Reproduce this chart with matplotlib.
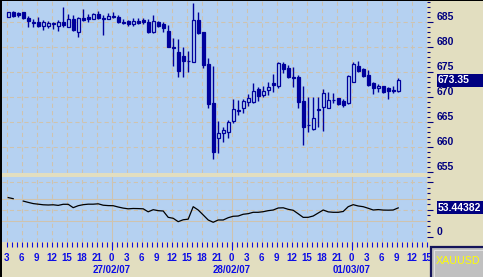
import numpy as np
import pandas as pd
import matplotlib
matplotlib.use("Agg")
import matplotlib.pyplot as plt
from matplotlib.patches import Rectangle
import matplotlib.transforms as mtransforms

plt.rcParams['font.family'] = ['Liberation Sans', 'DejaVu Sans']

# ---------------- data ----------------
start_time = "2007-02-26 03:00"
n_axis_hours = 85           # axis runs to 01/03/07 15:00
opens = [686.07, 687.07, 686.87, 686.93, 685.73, 685.0, 685.07, 684.2, 684.27, 684.73,
         684.2, 685.0, 684.07, 685.6, 683.07, 685.73, 686.07, 685.6, 686.53, 685.73,
         685.67, 686.2, 685.93, 684.93, 685.27, 684.6, 685.2, 685.4, 684.93, 682.93,
         684.93, 684.53, 683.2, 680.0, 679.07, 678.2, 677.27, 677.07, 685.4, 682.93,
         676.6, 668.73, 661.8, 662.8, 663.0, 665.27, 667.4, 667.87, 669.07, 668.93,
         671.53, 670.4, 671.4, 672.73, 672.27, 676.53, 675.73, 674.0, 673.93, 669.2,
         664.47, 663.53, 667.6, 667.93, 667.73, 669.47, 669.73, 669.2, 668.87, 672.93,
         676.27, 675.6, 674.4, 672.73, 671.73, 672.2, 671.73, 671.33, 671.27]
highs = [687.07, 687.2, 687.07, 686.93, 686.2, 685.53, 685.93, 685.4, 685.2, 684.93,
         685.4, 687.93, 686.53, 686.4, 686.07, 687.53, 686.53, 686.87, 687.2, 686.4,
         686.73, 686.93, 686.4, 685.53, 685.4, 685.87, 685.73, 685.73, 685.6, 686.4,
         685.27, 684.93, 684.4, 681.73, 681.53, 680.07, 679.27, 688.73, 686.93, 683.07,
         677.73, 676.2, 665.27, 664.07, 665.4, 669.6, 669.4, 669.6, 670.6, 672.73,
         671.93, 672.2, 673.07, 674.6, 677.07, 677.07, 676.4, 675.93, 674.4, 672.2,
         670.07, 670.07, 670.07, 671.53, 671.07, 670.73, 669.87, 669.53, 674.4, 677.07,
         677.2, 675.73, 675.4, 673.07, 672.53, 672.27, 672.07, 672.2, 673.73]
lows = [685.93, 686.07, 686.07, 685.53, 684.07, 683.93, 683.93, 683.4, 683.73, 683.53,
        683.27, 684.07, 684.07, 683.27, 681.93, 685.27, 684.93, 685.53, 685.53, 682.4,
        685.53, 685.87, 684.73, 684.6, 684.2, 684.27, 684.6, 684.6, 682.87, 682.73,
        683.93, 682.93, 679.93, 676.27, 673.93, 673.93, 674.93, 676.93, 682.6, 675.87,
        667.73, 657.53, 658.73, 661.07, 661.87, 664.73, 666.4, 666.73, 668.2, 668.87,
        669.2, 670.07, 670.4, 671.07, 671.73, 674.73, 673.73, 671.93, 667.73, 660.4,
        663.07, 663.4, 664.07, 663.27, 667.73, 668.73, 668.4, 668.07, 668.6, 672.93,
        674.93, 674.07, 672.27, 670.6, 670.93, 670.87, 669.53, 670.87, 671.07]
closes = [686.93, 686.27, 686.4, 685.73, 685.27, 684.87, 684.27, 684.93, 684.87, 684.53,
          685.0, 684.4, 685.6, 683.4, 685.87, 685.4, 685.53, 686.6, 685.73, 685.53,
          686.2, 685.93, 685.07, 684.8, 684.53, 685.13, 684.87, 685.0, 683.07, 685.2,
          684.27, 683.87, 680.07, 679.87, 675.27, 677.27, 677.13, 685.4, 682.87, 676.4,
          668.53, 659.07, 662.8, 663.4, 665.0, 667.6, 667.27, 669.2, 669.87, 671.27,
          670.27, 671.2, 671.93, 672.4, 676.87, 675.6, 673.93, 673.87, 669.07, 664.07,
          664.33, 665.73, 667.47, 670.73, 669.4, 669.33, 668.53, 668.4, 674.2, 676.53,
          675.2, 674.27, 672.4, 671.87, 672.27, 671.07, 671.27, 671.2, 673.35]
rsi = [72.3, 70.3, np.nan, 65.9, 63.5, 61.3, 60.2, 59.1, 58.7, 59.1,
       58.0, 60.0, 60.0, 53.8, 57.4, 59.3, 60.2, 60.2, 60.9, 58.3,
       57.6, 57.4, 55.0, 53.0, 51.7, 52.3, 52.1, 51.7, 46.2, 50.1,
       48.3, 47.7, 36.1, 34.3, 28.1, 31.6, 32.7, 55.6, 49.5, 40.4,
       31.2, 27.0, 31.2, 31.2, 35.4, 38.0, 38.5, 41.7, 42.8, 45.3,
       45.3, 46.4, 48.3, 49.5, 53.2, 53.6, 50.8, 49.0, 42.6, 36.0,
       36.1, 38.5, 44.0, 49.5, 46.1, 45.3, 45.3, 46.8, 55.6, 59.3,
       56.9, 55.6, 52.7, 49.5, 50.3, 49.4, 49.2, 49.5, 53.44]
rsi_levels = [30, 70]
price_ticks = [655, 660, 665, 670, 675, 680, 685]
rsi_ticks = [0, 50, 100]
price_label = "673.35"
rsi_label = "53.44382"
symbol = "XAUUSD"

# ---------------- style ----------------
W, H = 483, 277
BG = '#B5D1F1'
BEIGE = '#E2DEC0'
NAVY = '#00009C'
AXNAVY = '#000080'
BLUE = '#0C0CE6'
GRID = '#CFC3AE'

fig = plt.figure(figsize=(W / 100, H / 100), dpi=100, facecolor=BEIGE)


def px_axes(x0, y0, x1, y1):
    return [x0 / W, 1 - y1 / H, (x1 - x0) / W, (y1 - y0) / H]


ax = fig.add_axes(px_axes(2, 0, 427, 173))
ax2 = fig.add_axes(px_axes(2, 176.5, 427, 242), sharex=ax)

times = pd.date_range(start_time, periods=n_axis_hours, freq='h')
hpos = np.arange(n_axis_hours)
n = len(closes)
xc = np.arange(n) + 0.3

for a in (ax, ax2):
    a.set_facecolor(BG)
    for s in a.spines.values():
        s.set_visible(False)

ax.set_xlim(-0.94, 84.06)
ax.set_ylim(654.8, 689.4)
ax2.set_ylim(-9.2, 111.0)

# vertical grid every 3 hours
major_pos = hpos[times.hour % 3 == 0]
major_lab = [str(h) for h in times.hour[times.hour % 3 == 0]]
mid_pos = hpos[times.hour == 0]
mid_lab = [t.strftime('%d/%m/%y') for t in times[times.hour == 0]]

dash = (0, (4, 3))
for p in major_pos:
    ax.axvline(p, color=GRID, lw=0.75, ls=dash, zorder=0)
    if p in mid_pos:
        ax2.axvline(p, color=GRID, lw=0.75, ls='-', zorder=0)
    else:
        ax2.axvline(p, color=GRID, lw=0.75, ls=dash, zorder=0)
for v in price_ticks[1:]:
    ax.axhline(v, color=GRID, lw=0.75, ls=dash, zorder=0)
for v in [100, 50]:
    ax2.axhline(v, color=GRID, lw=0.75, ls=dash, zorder=0)
for v in rsi_levels:
    ax2.axhline(v, color=GRID, lw=0.75, ls='-', zorder=0)

# candles
o = np.array(opens); c = np.array(closes); hi = np.array(highs); lo = np.array(lows)
ax.vlines(xc, lo, hi, color=NAVY, lw=1.0, zorder=2)
up = c >= o
bottoms = np.minimum(o, c)
heights = np.abs(c - o)
ax.bar(xc[up], heights[up], bottom=bottoms[up], width=0.6, facecolor=BG,
       edgecolor=NAVY, linewidth=0.9, zorder=3)
ax.bar(xc[~up], heights[~up], bottom=bottoms[~up], width=0.6, facecolor=NAVY,
       edgecolor=NAVY, linewidth=0.9, zorder=3)

# indicator
ax2.plot(xc, rsi, color='black', lw=0.9, zorder=3)

# right axis (price)
ax.yaxis.tick_right()
ax.set_yticks(price_ticks, [str(v) for v in price_ticks])
ax.set_yticks(np.arange(655, 690, 1), minor=True)
ax.tick_params(axis='y', which='major', length=4.3, width=0.8, color=AXNAVY,
               labelcolor=AXNAVY, labelsize=7.5, pad=2.5)
ax.tick_params(axis='y', which='minor', length=2, width=0.8, color=AXNAVY)
for lbl in ax.get_yticklabels():
    lbl.set_fontweight('bold')
    lbl.set_verticalalignment('bottom')
ax.tick_params(axis='x', which='both', length=0, labelbottom=False)

ax2.yaxis.tick_right()
ax2.set_yticks(rsi_ticks, ['0', '', ''])
ax2.set_yticks(np.arange(0, 111, 10), minor=True)
ax2.tick_params(axis='y', which='major', length=4.3, width=0.8, color=AXNAVY,
                labelcolor=AXNAVY, labelsize=7.5, pad=2.5)
ax2.tick_params(axis='y', which='minor', length=2, width=0.8, color=AXNAVY)
for lbl in ax2.get_yticklabels():
    lbl.set_fontweight('bold')
    lbl.set_verticalalignment('bottom')

# bottom time axis
ax2.set_xticks(major_pos, major_lab)
ax2.set_xticks(hpos, minor=True)
ax2.tick_params(axis='x', which='both', length=3.6, width=0.8, color=BLUE,
                labelcolor=BLUE, labelsize=7, pad=4.0)
for lbl in ax2.get_xticklabels():
    lbl.set_fontweight('bold')
sec = ax2.secondary_xaxis('bottom')
sec.set_xticks(mid_pos, mid_lab)
sec.tick_params(axis='x', length=5.8, width=0.8, color=BLUE, labelcolor=BLUE,
                labelsize=7, pad=11.0)
for lbl in sec.get_xticklabels():
    lbl.set_fontweight('bold')
for s in sec.spines.values():
    s.set_visible(False)

# current value boxes
tr1 = mtransforms.blended_transform_factory(fig.transFigure, ax.transData)
box_h1 = 13 / 5.0
ax.add_patch(Rectangle((437 / W, closes[-1] - box_h1 / 2), 50 / W, box_h1,
                       transform=tr1, clip_on=False, facecolor=AXNAVY,
                       edgecolor='none', zorder=5))
ax.text(437.5 / W, closes[-1], price_label, transform=tr1, color='white',
        fontsize=7.5, fontweight='bold', va='center', ha='left', zorder=6)

tr2 = mtransforms.blended_transform_factory(fig.transFigure, ax2.transData)
box_h2 = 13 / 0.545
ax2.add_patch(Rectangle((437 / W, rsi[-1] - box_h2 / 2), 50 / W, box_h2,
                        transform=tr2, clip_on=False, facecolor=AXNAVY,
                        edgecolor='none', zorder=5))
ax2.text(437.5 / W, rsi[-1], rsi_label, transform=tr2, color='white',
         fontsize=7.5, fontweight='bold', va='center', ha='left', zorder=6)

# symbol box
fig.add_artist(Rectangle((431 / W, -0.01), 60 / W, 33 / H, transform=fig.transFigure,
                         facecolor='#C0C0C0', edgecolor='#14145A', linewidth=1.6))
fig.add_artist(Rectangle((433.5 / W, -0.01), 60 / W, 30 / H, transform=fig.transFigure,
                         facecolor='none', edgecolor='#E8E8E8', linewidth=0.6))
fig.text(436 / W, 1 - 261 / H, symbol, color='#FFFF00', fontsize=7.7,
         va='center', ha='left')

# black borders
fig.add_artist(Rectangle((0, 0), 2 / W, 1, transform=fig.transFigure,
                         facecolor='black', edgecolor='none'))
fig.add_artist(Rectangle((0, 1 - 1 / H), 1, 1 / H, transform=fig.transFigure,
                         facecolor='black', edgecolor='none'))

fig.savefig('out.png', dpi=100, facecolor=BEIGE)
